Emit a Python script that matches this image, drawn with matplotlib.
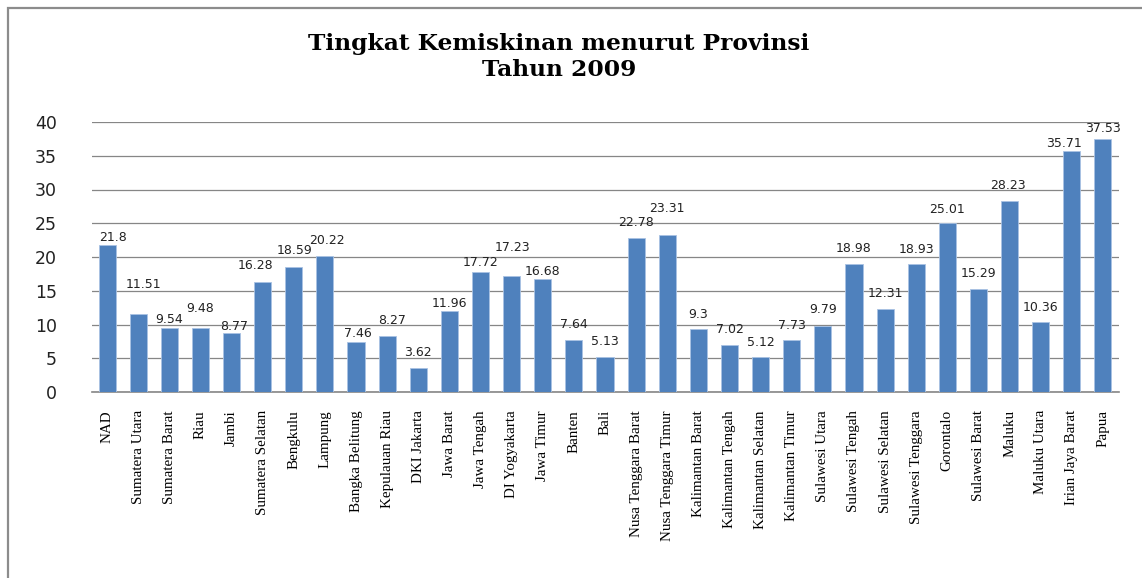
import matplotlib
matplotlib.use("Agg")
import matplotlib.pyplot as plt
from matplotlib.patches import Rectangle

# Data: poverty rate per province, 2009
provinces = [
    "NAD", "Sumatera Utara", "Sumatera Barat", "Riau", "Jambi",
    "Sumatera Selatan", "Bengkulu", "Lampung", "Bangka Belitung",
    "Kepulauan Riau", "DKI Jakarta", "Jawa Barat", "Jawa Tengah",
    "DI Yogyakarta", "Jawa Timur", "Banten", "Bali",
    "Nusa Tenggara Barat", "Nusa Tenggara Timur", "Kalimantan Barat",
    "Kalimantan Tengah", "Kalimantan Selatan", "Kalimantan Timur",
    "Sulawesi Utara", "Sulawesi Tengah", "Sulawesi Selatan",
    "Sulawesi Tenggara", "Gorontalo", "Sulawesi Barat", "Maluku",
    "Maluku Utara", "Irian Jaya Barat", "Papua",
]
poverty = [
    21.8, 11.51, 9.54, 9.48, 8.77, 16.28, 18.59, 20.22, 7.46, 8.27,
    3.62, 11.96, 17.72, 17.23, 16.68, 7.64, 5.13, 22.78, 23.31, 9.3,
    7.02, 5.12, 7.73, 9.79, 18.98, 12.31, 18.93, 25.01, 15.29, 28.23,
    10.36, 35.71, 37.53,
]
value_labels = ["21.8", "11.51", "9.54", "9.48", "8.77", "16.28", "18.59",
                "20.22", "7.46", "8.27", "3.62", "11.96", "17.72", "17.23",
                "16.68", "7.64", "5.13", "22.78", "23.31", "9.3", "7.02",
                "5.12", "7.73", "9.79", "18.98", "12.31", "18.93", "25.01",
                "15.29", "28.23", "10.36", "35.71", "37.53"]
y_ticks = [0, 5, 10, 15, 20, 25, 30, 35, 40]

# label placement (pixels above bar top / sideways), as in the original sheet
label_dy = [7, 30, 8, 20, 6, 17, 16, 15, 8, 16, 15, 8, 10, 28, 8, 16, 16,
            16, 26, 15, 15, 15, 14, 16, 15, 15, 15, 14, 15, 16, 15, 7, 10]
label_dx = [6, 5, 0, 0, 3, -7, 1, 2, 2, 5, 0, 0, 0, 1, 0, 0, 0,
            0, 0, 0, 0, 0, 0, 0, 0, 0, 0, 0, 0, -2, 0, -8, 0]

fig = plt.figure(figsize=(11.42, 5.78), dpi=100)
ax = fig.add_axes([91.5 / 1142, 186 / 578, 1027 / 1142, 270 / 578])

x = range(len(provinces))
bars = ax.bar(x, poverty, width=0.55, color="#4F81BD", edgecolor="#A9C2E3",
              linewidth=0.6, zorder=3)

for i, b in enumerate(bars):
    ax.annotate(value_labels[i], (b.get_x() + b.get_width() / 2, b.get_height()),
                xytext=(label_dx[i], label_dy[i]), textcoords="offset pixels",
                ha="center", va="center", fontsize=9, color="#222222",
                family="DejaVu Sans")

ax.set_xlim(-0.5, len(provinces) - 0.5)
ax.set_ylim(0, 40)
ax.set_yticks(y_ticks)
ax.set_yticklabels([str(t) for t in y_ticks], fontsize=12.5, family="DejaVu Sans",
                   color="#222222")
ax.set_xticks(list(x))
ax.set_xticklabels(provinces, rotation=90, ha="center", va="top", fontsize=10.8,
                   family="Liberation Serif")
ax.tick_params(axis="y", length=0, pad=25)
ax.tick_params(axis="x", length=0, pad=13)

ax.grid(axis="y", color="#868686", linewidth=0.9, zorder=0)
ax.set_axisbelow(True)
for s in ["left", "right", "top"]:
    ax.spines[s].set_visible(False)
ax.spines["bottom"].set_color("#868686")
ax.spines["bottom"].set_linewidth(1.2)

fig.text(559 / 1142, 1 - 57 / 578, "Tingkat Kemiskinan menurut Provinsi\nTahun 2009",
         ha="center", va="center", fontsize=16.8, fontweight="bold",
         family="DejaVu Serif", linespacing=1.25)

# chart frame (runs off the right and bottom edge of the image)
fig.patches.append(Rectangle((7.5 / 1142, -0.1), 1.2, 1.1 - 8.5 / 578,
                             transform=fig.transFigure, fill=False,
                             edgecolor="#8C8C8C", linewidth=1.6))

fig.savefig("out.png", dpi=100)
